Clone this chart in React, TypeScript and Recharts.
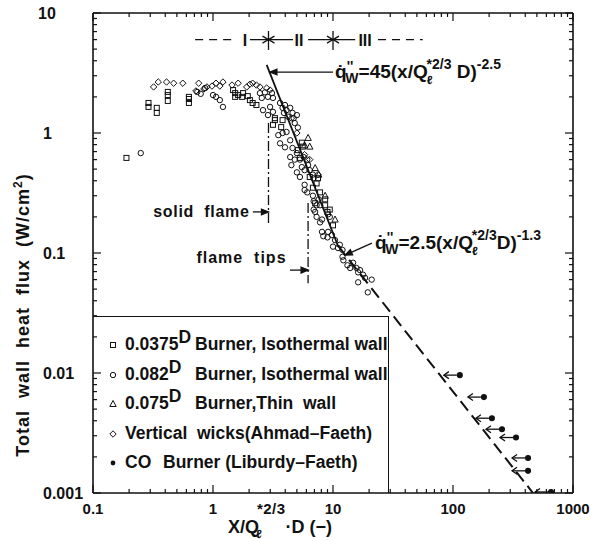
import { ScatterChart, Scatter, XAxis, YAxis, ReferenceLine, ReferenceDot, Legend } from 'recharts';

const FONT = '"Liberation Sans", Arial, Helvetica, sans-serif';
const INK = '#111';

// tick values (decades + minor ticks)
const decadesX = [0.1, 1, 10, 100];
const decadesY = [0.001, 0.01, 0.1, 1];
const steps = [1, 2, 3, 4, 5, 6, 7, 8, 9];
const xTicks = [...decadesX.flatMap((d) => steps.map((s) => +(d * s).toPrecision(3))), 1000];
const yTicks = [...decadesY.flatMap((d) => steps.map((s) => +(d * s).toPrecision(3))), 10];

// 0.0375 m burner, isothermal wall (squares)
const burner0375: [number, number][] = [
  [0.19, 0.62], [0.29, 1.78], [0.29, 1.65], [0.34, 1.62], [0.34, 1.47], [0.42, 2.2], [0.42, 2.07],
  [0.42, 1.85], [0.63, 2.0], [0.63, 1.92], [0.63, 1.78], [1.47, 2.28], [1.53, 2.15], [1.62, 2.07],
  [1.53, 2.0], [1.78, 2.15], [1.75, 2.0], [1.95, 2.03], [2.03, 1.88], [2.14, 1.78], [2.3, 1.71],
  [3.16, 1.17], [3.28, 1.28], [3.28, 1.33], [3.8, 1.28], [3.7, 1.12], [5.1, 0.72], [5.6, 0.77],
  [5.5, 0.83], [6.4, 0.43], [7.5, 0.42], [7.3, 0.38], [7.1, 0.26], [8.6, 0.25], [9.0, 0.22],
  [5.3, 0.62], [6.8, 0.35], [7.8, 0.32], [8.6, 0.28], [9.4, 0.23], [10, 0.17],
];

// 0.082 m burner, isothermal wall (circles)
const burner082: [number, number][] = [
  [0.25, 0.68], [0.74, 2.2], [0.79, 2.12], [0.86, 2.37], [1.0, 2.07], [1.06, 2.0], [1.14, 1.88],
  [1.21, 1.65], [2.46, 2.15], [2.55, 1.96], [2.71, 2.18], [2.87, 2.0], [3.1, 2.15], [3.16, 1.96],
  [2.61, 1.55], [2.87, 1.41], [2.99, 1.65], [3.16, 1.5], [3.62, 1.78], [3.8, 1.62], [3.9, 1.47],
  [3.98, 1.71], [4.1, 1.55], [4.2, 1.37], [4.4, 1.62], [4.6, 1.47], [4.7, 1.33], [5.0, 1.41],
  [4.8, 1.21], [5.1, 1.11], [3.5, 0.96], [3.8, 1.0], [4.1, 1.02], [3.62, 0.82], [3.98, 0.76],
  [4.4, 0.87], [4.6, 0.75], [5.0, 0.68], [4.4, 0.63], [5.3, 0.6], [5.7, 0.63], [6.1, 0.6],
  [6.2, 0.54], [5.5, 0.52], [5.8, 0.49], [6.4, 0.49], [6.8, 0.45], [6.9, 0.42], [4.5, 0.54],
  [4.8, 0.6], [5.0, 0.47], [5.3, 0.43], [5.8, 0.37], [5.8, 0.335], [6.1, 0.32], [6.8, 0.3],
  [6.9, 0.27], [7.3, 0.25], [7.8, 0.25], [7.6, 0.28], [6.9, 0.23], [7.1, 0.22], [7.3, 0.2],
  [7.8, 0.18], [8.1, 0.19], [9.1, 0.21], [9.4, 0.2], [8.1, 0.15], [8.3, 0.138], [9.0, 0.135],
  [9.1, 0.15], [9.8, 0.141], [10.4, 0.128], [10.0, 0.113], [11.0, 0.11], [11.4, 0.117], [12, 0.106],
  [12, 0.093], [12.2, 0.087], [13.2, 0.079], [13.9, 0.075], [14.7, 0.083], [15.7, 0.075],
  [16.2, 0.069], [16.8, 0.072], [17.8, 0.066], [18.5, 0.062], [21, 0.06], [19.5, 0.047], [16.2, 0.057],
];

// 0.075 m burner, thin wall (triangles)
const burner075: [number, number][] = [
  [5.8, 0.79], [6.2, 0.91], [6.4, 0.77], [7.1, 0.51], [7.6, 0.45], [8.6, 0.3], [10.4, 0.19],
];

// vertical wicks, Ahmad-Faeth (diamonds)
const wicks: [number, number][] = [
  [0.32, 2.42], [0.35, 2.66], [0.41, 2.66], [0.47, 2.6], [0.56, 2.6], [0.76, 2.6], [0.72, 2.24],
  [0.84, 2.33], [0.89, 2.42], [0.98, 2.46], [1.06, 2.6], [1.14, 2.46], [1.21, 2.66], [1.44, 2.51],
  [1.62, 2.6], [1.91, 2.42], [2.03, 2.55], [2.14, 2.6], [2.3, 2.51], [2.46, 2.42], [2.8, 2.37],
  [2.99, 2.28], [4.5, 1.33], [5.0, 1.0], [5.8, 0.66], [6.4, 0.6], [7.5, 0.45],
];

// CO burner, Liburdy-Faeth (filled dots, upper bounds)
const coBurner: [number, number][] = [
  [114, 0.0096], [181, 0.0063], [211, 0.0042], [256, 0.0034], [335, 0.0029], [422, 0.00196],
  [422, 0.00153], [656, 0.00102],
];

// correlation lines (end points)
const fitNear: [number, number][] = [[2.8, 3.7], [11, 0.115]];
const fitFar: [number, number][] = [[11, 0.115], [464, 0.001]];

const pts = (a: [number, number][]) => a.map(([x, y]) => ({ x, y }));

const PLOT = { left: 93, right: 573, top: 13, bottom: 493 };

const isMajor = (v: number) => Math.abs(Math.log10(v) - Math.round(Math.log10(v))) < 1e-6;

const XTick = (props: any) => {
  const { x, payload } = props;
  const v = payload.value;
  const len = isMajor(v) ? 8 : 4;
  return (
    <g stroke={INK} strokeWidth={1.2}>
      <line x1={x} x2={x} y1={PLOT.bottom} y2={PLOT.bottom - len} />
      <line x1={x} x2={x} y1={PLOT.top} y2={PLOT.top + len} />
      {isMajor(v) && (
        <text x={x} y={PLOT.bottom + 21} textAnchor="middle" stroke="none" fill={INK}
          fontFamily={FONT} fontWeight="bold" fontSize={15}>{String(v)}</text>
      )}
    </g>
  );
};

const YTick = (props: any) => {
  const { y, payload } = props;
  const v = payload.value;
  const len = isMajor(v) ? 8 : 4;
  return (
    <g stroke={INK} strokeWidth={1.2}>
      <line x1={PLOT.left} x2={PLOT.left + len} y1={y} y2={y} />
      <line x1={PLOT.right} x2={PLOT.right - len} y1={y} y2={y} />
      {isMajor(v) && (
        <text x={v >= 10 ? 38 : 43} y={y + 6} textAnchor="start" stroke="none" fill={INK}
          fontFamily={FONT} fontWeight="bold" fontSize={16}>{String(v)}</text>
      )}
    </g>
  );
};

const Square = ({ cx, cy }: any) => <rect x={cx - 2.5} y={cy - 2.5} width={5} height={5} fill="none" stroke={INK} strokeWidth={1} />;
const Circle = ({ cx, cy }: any) => <circle cx={cx} cy={cy} r={2.7} fill="none" stroke={INK} strokeWidth={1} />;
const Triangle = ({ cx, cy }: any) => (
  <path d={`M${cx},${cy - 3.5} L${cx + 3.2},${cy + 2.5} L${cx - 3.2},${cy + 2.5} Z`} fill="none" stroke={INK} strokeWidth={1} />
);
const Diamond = ({ cx, cy }: any) => (
  <path d={`M${cx},${cy - 3.2} L${cx + 3.2},${cy} L${cx},${cy + 3.2} L${cx - 3.2},${cy} Z`} fill="none" stroke={INK} strokeWidth={1} />
);
const CoMark = ({ cx, cy }: any) => (
  <g stroke={INK} strokeWidth={1.3} fill="none">
    <circle cx={cx} cy={cy} r={2.4} fill={INK} />
    <line x1={cx - 3} y1={cy} x2={cx - 16} y2={cy} />
    <path d={`M${cx - 11},${cy - 3.5} L${cx - 16},${cy} L${cx - 11},${cy + 3.5}`} />
  </g>
);
const Nothing = () => <g />;

const arrowShape = (filled: boolean) => (p: any) => {
  const { x1, y1, x2, y2 } = p;
  const a = Math.atan2(y2 - y1, x2 - x1);
  const h = filled ? 7 : 6;
  const w = filled ? 2.8 : 3.5;
  const bx = x2 - h * Math.cos(a);
  const by = y2 - h * Math.sin(a);
  const px = -Math.sin(a) * w;
  const py = Math.cos(a) * w;
  return (
    <g stroke={INK} strokeWidth={1.3}>
      <line x1={x1} y1={y1} x2={x2} y2={y2} />
      {filled ? (
        <path d={`M${x2},${y2} L${bx + px},${by + py} L${bx - px},${by - py} Z`} fill={INK} />
      ) : (
        <path d={`M${bx + px},${by + py} L${x2},${y2} L${bx - px},${by - py}`} fill="none" />
      )}
    </g>
  );
};
const openArrow = arrowShape(false);
const solidArrow = arrowShape(true);

const Eq = ({ x, y, coef, power, gap }: any) => (
  <text x={x} y={y} fontFamily={FONT} fontWeight="bold" fontSize={19} fill={INK}>
    <tspan>{'q\u0307'}</tspan>
    <tspan dy={-7} fontSize={14}>''</tspan>
    <tspan dx={-8} dy={12} fontSize={14}>W</tspan>
    <tspan dy={-5}>{`=${coef}(x/Q`}</tspan>
    <tspan dx={-1} dy={6} fontSize={12}>ℓ</tspan>
    <tspan dx={-6} dy={-15} fontSize={14}>*2/3</tspan>
    <tspan dy={9}>{gap ? ' D)' : 'D)'}</tspan>
    <tspan dy={-9} fontSize={14}>{power}</tspan>
  </text>
);

const txt = (s: string, anchor: string, size = 16, spacing = 0) => (p: any) => (
  <text x={p.cx} y={p.cy} textAnchor={anchor} fontFamily={FONT} fontWeight="bold" fontSize={size}
    letterSpacing={spacing} fill={INK} style={{ whiteSpace: 'pre' }}>{s}</text>
);

const legendRows = [
  { mark: Square, lead: '0.0375', sup: 'D', rest: 'Burner, Isothermal wall', w: 70 },
  { mark: Circle, lead: '0.082', sup: 'D', rest: 'Burner, Isothermal wall', w: 70 },
  { mark: Triangle, lead: '0.075', sup: 'D', rest: 'Burner,Thin  wall', w: 70 },
  { mark: Diamond, lead: 'Vertical  wicks(Ahmad\u2013Faeth)', sup: '', rest: '', w: 0 },
  { mark: ({ cx, cy }: any) => <circle cx={cx} cy={cy} r={2.4} fill={INK} />, lead: 'CO', sup: '', rest: 'Burner (Liburdy\u2013Faeth)', w: 38 },
];

const LegendBox = () => (
  <div style={{ fontFamily: FONT, fontWeight: 'bold', fontSize: 17.5, color: INK, whiteSpace: 'pre', paddingTop: 13, lineHeight: '29.5px', overflow: 'hidden', height: '100%', boxSizing: 'border-box' }}>
    {legendRows.map((r, i) => {
      const Mark = r.mark;
      return (
        <div key={i} style={{ height: 29.5 }}>
          <svg width={12} height={12} style={{ marginLeft: 14, marginRight: 6, verticalAlign: 'middle' }}>
            <Mark cx={6} cy={6} />
          </svg>
          <span style={{ display: 'inline-block', width: r.w || undefined }}>
            {r.lead}
            {r.sup && <span style={{ position: 'relative', top: -7 }}>{r.sup}</span>}
          </span>
          {r.rest}
        </div>
      );
    })}
  </div>
);

export default function App() {
  return (
    <div style={{ position: 'fixed', left: 0, top: 0, width: 590, height: 541, overflow: 'hidden', background: '#fff' }}>
      <ScatterChart width={590} height={541} margin={{ top: 13, right: 17, bottom: 0, left: 0 }}
        style={{ fontFamily: FONT }}>
        <XAxis type="number" dataKey="x" scale="log" domain={[0.1, 1000]} allowDataOverflow ticks={xTicks}
          interval={0} tick={XTick} tickLine={false} axisLine={{ stroke: INK, strokeWidth: 1.6 }} height={48}
          label={() => (
            <text x={228} y={533} fontFamily={FONT} fontWeight="bold" fontSize={18} fill={INK} style={{ whiteSpace: 'pre' }}>
              X/Q<tspan dx={-3} dy={5} fontSize={12}>ℓ</tspan>
              <tspan dx={-5} dy={-24} fontSize={15} letterSpacing={0.5}>*2/3</tspan>
              <tspan dy={19}>{'\u00b7D (\u2212)'}</tspan>
            </text>
          )} />
        <YAxis type="number" dataKey="y" scale="log" domain={[0.001, 10]} allowDataOverflow ticks={yTicks}
          interval={0} tick={YTick} tickLine={false} axisLine={{ stroke: INK, strokeWidth: 1.6 }} width={93}
          label={() => (
            <text x={29} y={315} transform="rotate(-90, 29, 315)" textAnchor="middle" fontFamily={FONT}
              fontWeight="bold" fontSize={18} letterSpacing={1} fill={INK} style={{ whiteSpace: 'pre' }}>
              Total  wall  heat  flux  (W/cm<tspan dy={-7} fontSize={12}>2</tspan><tspan dy={7}>)</tspan>
            </text>
          )} />
        <ReferenceLine y={10} stroke={INK} strokeWidth={1.6} />
        <ReferenceLine x={1000} stroke={INK} strokeWidth={1.6} />

        {/* region bar I / II / III */}
        <ReferenceLine segment={[{ x: 0.71, y: 6 }, { x: 1.58, y: 6 }]} stroke={INK} strokeWidth={1.3} strokeDasharray="8 6" />
        <ReferenceDot x={1.85} y={6} r={1} shape={(p: any) => txt('I', 'middle', 16)({ cx: p.cx, cy: p.cy + 6 })} />
        <ReferenceLine segment={[{ x: 2.03, y: 6 }, { x: 2.9, y: 6 }]} shape={openArrow} />
        <ReferenceLine segment={[{ x: 2.9, y: 7.08 }, { x: 2.9, y: 4.92 }]} stroke={INK} strokeWidth={1.3} />
        <ReferenceLine segment={[{ x: 4.64, y: 6 }, { x: 2.9, y: 6 }]} shape={openArrow} />
        <ReferenceDot x={5.2} y={6} r={1} shape={(p: any) => txt('II', 'middle', 16)({ cx: p.cx, cy: p.cy + 6 })} />
        <ReferenceLine segment={[{ x: 6.2, y: 6 }, { x: 10, y: 6 }]} shape={openArrow} />
        <ReferenceLine segment={[{ x: 10, y: 7.08 }, { x: 10, y: 4.92 }]} stroke={INK} strokeWidth={1.3} />
        <ReferenceLine segment={[{ x: 15.3, y: 6 }, { x: 10, y: 6 }]} shape={openArrow} />
        <ReferenceDot x={18.5} y={6} r={1} shape={(p: any) => txt('III', 'middle', 16)({ cx: p.cx, cy: p.cy + 6 })} />
        <ReferenceLine segment={[{ x: 23.7, y: 6 }, { x: 56, y: 6 }]} stroke={INK} strokeWidth={1.3} strokeDasharray="8 6" />

        {/* solid flame / flame tips markers */}
        <ReferenceLine segment={[{ x: 2.9, y: 1.21 }, { x: 2.9, y: 0.171 }]} stroke={INK} strokeWidth={1.3} strokeDasharray="10 3 2 3" />
        <ReferenceLine segment={[{ x: 2.15, y: 0.22 }, { x: 2.9, y: 0.22 }]} shape={solidArrow} />
        <ReferenceDot x={2.02} y={0.2} r={1} shape={txt('solid  flame', 'end', 16, 0.7)} />
        <ReferenceLine segment={[{ x: 6.2, y: 0.261 }, { x: 6.2, y: 0.056 }]} stroke={INK} strokeWidth={1.3} strokeDasharray="10 3 2 3" />
        <ReferenceLine segment={[{ x: 4.38, y: 0.072 }, { x: 6.2, y: 0.072 }]} shape={solidArrow} />
        <ReferenceDot x={4.1} y={0.083} r={1} shape={txt('flame  tips', 'end', 16, 1)} />

        {/* equations */}
        <ReferenceLine segment={[{ x: 10, y: 3.22 }, { x: 2.98, y: 3.22 }]} shape={solidArrow} />
        <ReferenceDot x={10.4} y={2.87} r={1} shape={(p: any) => <Eq x={p.cx} y={p.cy} coef="45" power="-2.5" gap />} />
        <ReferenceLine segment={[{ x: 21.1, y: 0.121 }, { x: 12.6, y: 0.096 }]} shape={solidArrow} />
        <ReferenceDot x={22.4} y={0.108} r={1} shape={(p: any) => <Eq x={p.cx} y={p.cy} coef="2.5" power="-1.3" />} />

        <Scatter data={pts(fitNear)} line={{ stroke: INK, strokeWidth: 1.8 }} shape={Nothing} isAnimationActive={false} />
        <Scatter data={pts(fitFar)} line={{ stroke: INK, strokeWidth: 2, strokeDasharray: '12 6' }} shape={Nothing} isAnimationActive={false} />
        <Scatter data={pts(burner0375)} shape={Square} isAnimationActive={false} />
        <Scatter data={pts(burner082)} shape={Circle} isAnimationActive={false} />
        <Scatter data={pts(burner075)} shape={Triangle} isAnimationActive={false} />
        <Scatter data={pts(wicks)} shape={Diamond} isAnimationActive={false} />
        <Scatter data={pts(coBurner)} shape={CoMark} isAnimationActive={false} />

        <Legend layout="vertical" align="center" verticalAlign="middle" content={LegendBox}
          wrapperStyle={{ left: 93, top: 316, width: 296, height: 177, borderTop: `1.5px solid ${INK}`, borderRight: `1.5px solid ${INK}`, boxSizing: 'border-box' }} />
      </ScatterChart>
    </div>
  );
}
